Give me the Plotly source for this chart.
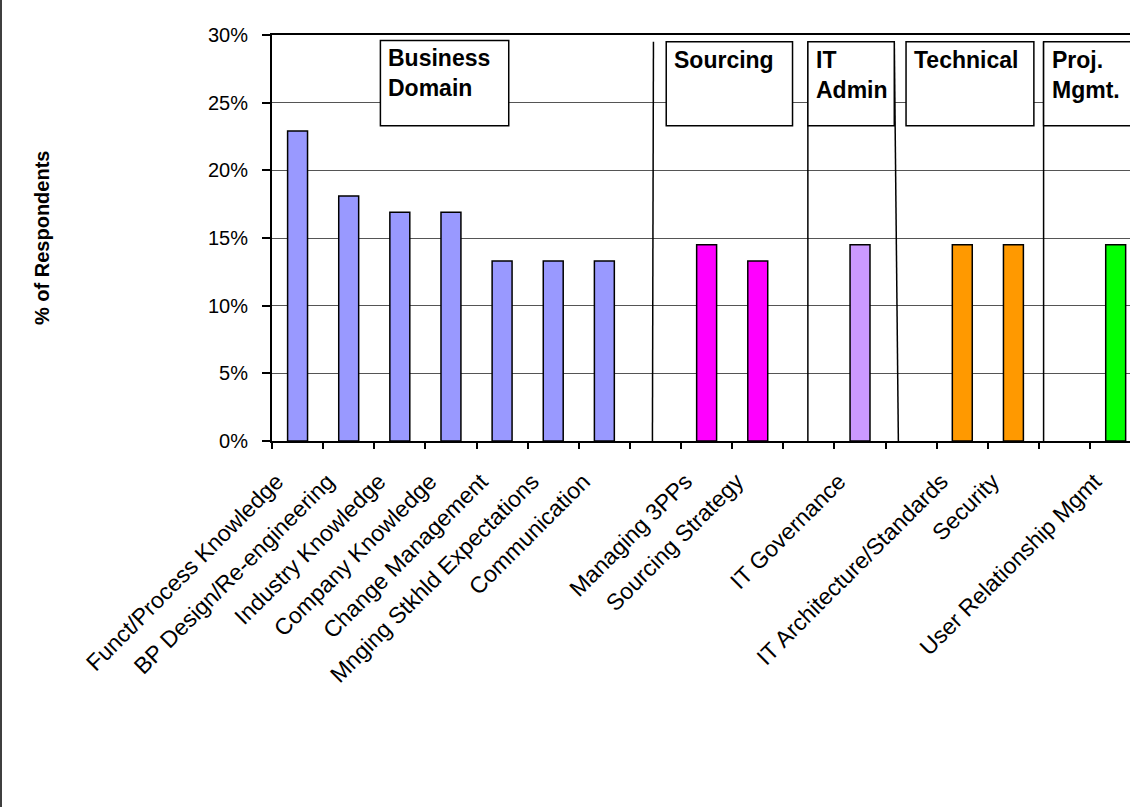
import plotly.graph_objects as go

# ---- data ----
business_cats = ["Funct/Process Knowledge", "BP Design/Re-engineering", "Industry Knowledge",
                 "Company Knowledge", "Change Management", "Mnging Stkhld Expectations", "Communication"]
business_vals = [22.9, 18.1, 16.9, 16.9, 13.3, 13.3, 13.3]
sourcing_cats = ["Managing 3PPs", "Sourcing Strategy"]
sourcing_vals = [14.5, 13.3]
itadmin_cats = ["IT Governance"]
itadmin_vals = [14.5]
technical_cats = ["IT Architecture/Standards", "Security"]
technical_vals = [14.5, 14.5]
projmgmt_cats = ["User Relationship Mgmt"]
projmgmt_vals = [14.5]
spacers = [" ", "  ", "   ", "    "]

group_names = ["Business<br>Domain", "Sourcing", "IT<br>Admin", "Technical", "Proj.<br>Mgmt."]
group_colors = ["#9999FF", "#FF00FF", "#CC99FF", "#FF9900", "#00FF00"]
y_ticks = [0, 5, 10, 15, 20, 25, 30]
y_ticktext = ["0%", "5%", "10%", "15%", "20%", "25%", "30%"]

groups = [(business_cats, business_vals), (sourcing_cats, sourcing_vals), (itadmin_cats, itadmin_vals),
          (technical_cats, technical_vals), (projmgmt_cats, projmgmt_vals)]

category_order = []
for i, (cats, _) in enumerate(groups):
    category_order += cats
    if i < len(spacers):
        category_order.append(spacers[i])

FONT = "Liberation Sans, Arial, sans-serif"

fig = go.Figure()
for (cats, vals), color in zip(groups, group_colors):
    fig.add_trace(go.Bar(x=cats, y=vals, width=0.39,
                         marker=dict(color=color, line=dict(color="black", width=1.5)),
                         showlegend=False, hoverinfo="x+y"))
fig.add_trace(go.Bar(x=spacers, y=[None] * len(spacers), showlegend=False, hoverinfo="skip"))

# separator lines (category-index units) and group label boxes
sep_lines = [(6.94, 6.96), (9.98, 9.98), (11.75, 11.67), (14.59, 14.59)]
boxes = [(1.62, 4.13, 29.6), (7.21, 9.68, 29.5), (9.98, 11.67, 29.5), (11.9, 14.4, 29.5), (14.59, 17.5, 29.5)]
box_bottom = 23.3

shapes = []
for xb, xt in sep_lines:
    shapes.append(dict(type="line", xref="x", yref="y", x0=xb, y0=0, x1=xt, y1=29.5,
                       line=dict(color="black", width=1.5), layer="above"))
annotations = []
for (x0, x1, top), name in zip(boxes, group_names):
    shapes.append(dict(type="rect", xref="x", yref="y", x0=x0, x1=x1, y0=box_bottom, y1=top,
                       fillcolor="white", line=dict(color="black", width=1.5), layer="above"))
    annotations.append(dict(xref="x", yref="y", x=x0, y=top, xanchor="left", yanchor="top",
                            xshift=6, yshift=-3, text="<b>" + name + "</b>", showarrow=False,
                            align="left", font=dict(family=FONT, size=23, color="black")))

# outer chart border
shapes.append(dict(type="rect", xref="paper", yref="paper",
                   x0=(1 - 272) / 858, x1=(1135 - 272) / 858, y0=(366 - 805) / 406, y1=(366 + 406 + 34) / 406,
                   line=dict(color="black", width=1.5), fillcolor="rgba(0,0,0,0)", layer="above"))

annotations.append(dict(xref="paper", yref="paper", x=(42 - 272) / 858, y=0.5, xanchor="center",
                        yanchor="middle", textangle=-90, showarrow=False,
                        text="<b>% of Respondents</b>", font=dict(family=FONT, size=20, color="black")))

fig.update_layout(
    width=1130, height=807,
    margin=dict(l=272, r=0, t=35, b=366),
    paper_bgcolor="white", plot_bgcolor="white",
    barmode="overlay",
    font=dict(family=FONT, color="black"),
    shapes=shapes, annotations=annotations,
    xaxis=dict(type="category", categoryorder="array", categoryarray=category_order,
               range=[-0.5, 16.28], tickangle=-45, tickson="boundaries",
               ticks="outside", ticklen=6, tickwidth=1.5, tickcolor="black",
               showline=True, linecolor="black", linewidth=2, mirror=True,
               showgrid=False, tickfont=dict(family=FONT, size=23, color="black"),
               ticklabelshift=-21, ticklabelstandoff=16,
               fixedrange=True),
    yaxis=dict(range=[0, 30], tickmode="array", tickvals=y_ticks, ticktext=y_ticktext,
               ticks="outside", ticklen=8, tickwidth=1.5, tickcolor="black",
               showline=True, linecolor="black", linewidth=2,
               showgrid=True, gridcolor="#555555", gridwidth=1, zeroline=False,
               ticklabelstandoff=10,
               tickfont=dict(family=FONT, size=20, color="black"), fixedrange=True),
)

fig.write_html("out.html")
